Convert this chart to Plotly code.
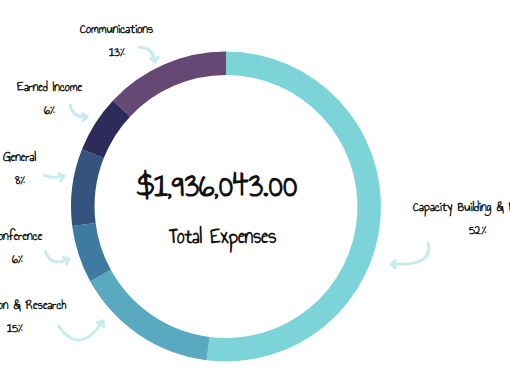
import math
import plotly.graph_objects as go

# ---- data ----
categories = ["Capacity Building & Events", "Education & Research", "Conference",
              "General", "Earned Income", "Communications"]
percents = [52, 15, 6, 8, 6, 13]
colors = ["#7DD4D8", "#59A9C0", "#3F7BA1", "#34537E", "#2D2B59", "#654873"]
total_label = "$1,936,043.00"
subtitle = "Total Expenses"

W, H = 510, 382
FONT = "Annie Use Your Telescope, Pompiere, Liberation Sans Narrow, sans-serif"

def px(x):
    return x / W

def py(y):
    return 1 - y / H

cx, cy, R = 226, 206.5, 155

fig = go.Figure(go.Pie(
    labels=categories, values=percents, sort=False, direction="clockwise",
    rotation=0, hole=0.848, textinfo="none", hoverinfo="label+percent",
    marker=dict(colors=colors, line=dict(width=0)),
    domain=dict(x=[px(cx - R), px(cx + R)], y=[py(cy + R), py(cy - R)]),
    showlegend=False,
))

annotations = [
    dict(text=total_label, x=px(217), y=py(185), font=dict(size=36)),
    dict(text=subtitle, x=px(222), y=py(237), font=dict(size=21)),
]
# label positions (centre x, centre y of name line)
label_pos = {
    "Communications": (116, 29),
    "Earned Income": (49, 87),
    "General": (19, 157),
    "Conference": (17, 236),
    "Education & Research": (14, 305),
    "Capacity Building & Events": (477, 207),
}
for cat, p in zip(categories, percents):
    lx, ly = label_pos[cat]
    annotations.append(dict(text=cat, x=px(lx), y=py(ly), font=dict(size=14)))
    annotations.append(dict(text=f"{p}%", x=px(lx), y=py(ly + 23), font=dict(size=14)))
for a in annotations:
    a.update(xref="paper", yref="paper", showarrow=False, xanchor="center",
             yanchor="middle")
    a["font"].update(family=FONT, color="#111111", weight="bold")

# decorative curved arrows (start, control, end) in pixels
arrows = [
    ((138, 47), (153, 47), (155, 62)),
    ((70, 104), (72, 118), (87, 117)),
    ((43, 175), (53, 179), (64, 176)),
    ((45, 250), (50, 268), (69, 259)),
    ((58, 325), (79, 357), (103, 321)),
    ((428, 242), (434, 267), (391, 264)),
]
ACOL = "#C9ECEF"
shapes = []
for (x0, y0), (qx, qy), (x1, y1) in arrows:
    path = f"M {px(x0)},{py(y0)} Q {px(qx)},{py(qy)} {px(x1)},{py(y1)}"
    shapes.append(dict(type="path", path=path, xref="paper", yref="paper",
                       line=dict(color=ACOL, width=3)))
    dx, dy = x1 - qx, y1 - qy
    n = math.hypot(dx, dy)
    dx, dy = dx / n, dy / n
    L = 7
    pts = []
    for ang in (math.radians(40), math.radians(-40)):
        rx = dx * math.cos(ang) - dy * math.sin(ang)
        ry = dx * math.sin(ang) + dy * math.cos(ang)
        pts.append((x1 - L * rx, y1 - L * ry))
    head = (f"M {px(pts[0][0])},{py(pts[0][1])} L {px(x1)},{py(y1)} "
            f"L {px(pts[1][0])},{py(pts[1][1])}")
    shapes.append(dict(type="path", path=head, xref="paper", yref="paper",
                       line=dict(color=ACOL, width=3)))

fig.update_layout(
    width=W, height=H, margin=dict(l=0, r=0, t=0, b=0),
    paper_bgcolor="white", plot_bgcolor="white",
    annotations=annotations, shapes=shapes,
)
fig.write_html("out.html")
